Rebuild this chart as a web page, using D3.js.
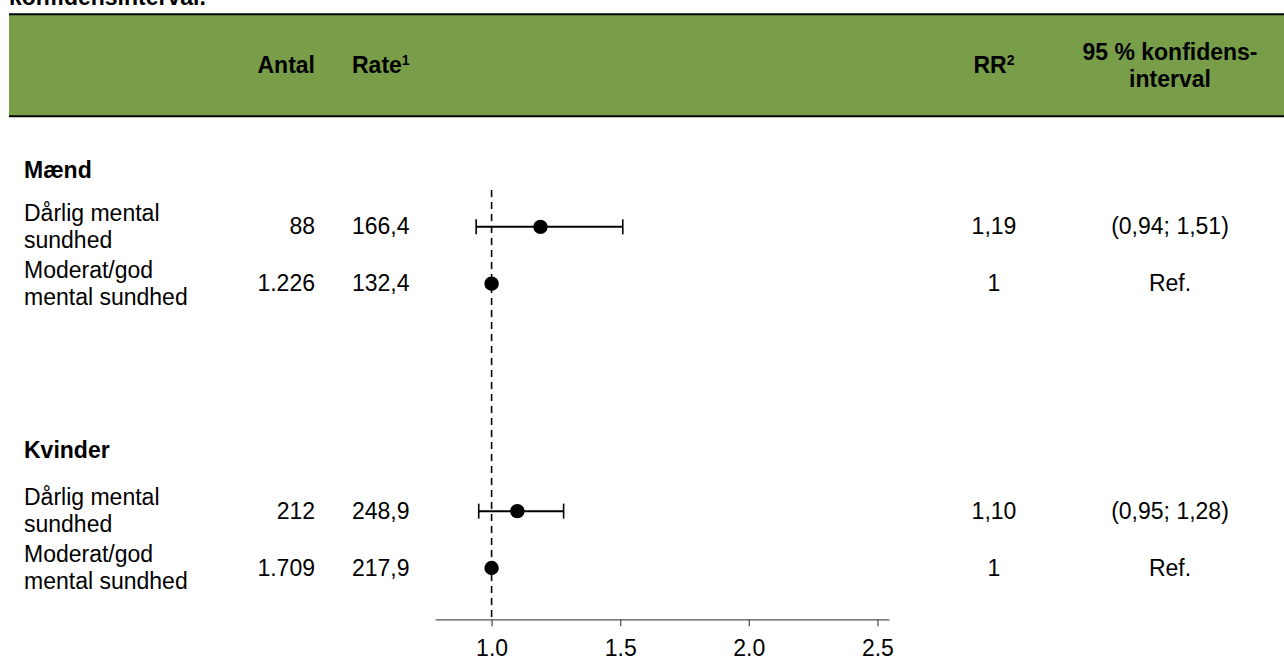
<!DOCTYPE html>
<html>
<head>
<meta charset="utf-8">
<script src="https://cdn.jsdelivr.net/npm/d3@7"></script>
<style>
  body { margin: 0; background: #fff; }
  text { font-family: Arial, "Liberation Sans", sans-serif; }
</style>
</head>
<body>
<div id="chart"></div>
<script>
// data
var groups = ["Mænd", "Kvinder"]
var rowLabels = [["Dårlig mental", "sundhed"], ["Moderat/god", "mental sundhed"]]
var antal = ["88", "1.226", "212", "1.709"]
var rate = ["166,4", "132,4", "248,9", "217,9"]
var rr = [1.19, 1, 1.10, 1]
var lower = [0.94, null, 0.95, null]
var upper = [1.51, null, 1.28, null]
var rrText = ["1,19", "1", "1,10", "1"]
var ciText = ["(0,94; 1,51)", "Ref.", "(0,95; 1,28)", "Ref."]
var tickVals = [1.0, 1.5, 2.0, 2.5]

var W = 1284, H = 671
var fs = 23

var svg = d3.select("#chart").append("svg")
    .attr("width", W).attr("height", H)

// clipped title from the page above
svg.append("text")
    .attr("x", 9).attr("y", 5)
    .style("font-size", fs + "px").style("font-weight", "bold")
    .text("konfidensinterval.")

// green header band
svg.append("rect")
    .attr("x", 9).attr("y", 15).attr("width", W - 9).attr("height", 101)
    .style("fill", "#799E4A")
svg.append("line").attr("x1", 9).attr("x2", W).attr("y1", 14.3).attr("y2", 14.3)
    .style("stroke", "#000").style("stroke-width", 2)
svg.append("line").attr("x1", 9).attr("x2", W).attr("y1", 116.3).attr("y2", 116.3)
    .style("stroke", "#000").style("stroke-width", 2)

// column positions
var colAntal = 315, colRate = 352, colRR = 994, colCI = 1170, colLabel = 24

function header(x, anchor, txt, sup) {
    var t = svg.append("text")
        .attr("x", x).attr("y", 73)
        .attr("text-anchor", anchor)
        .style("font-size", fs + "px").style("font-weight", "bold")
    t.append("tspan").text(txt)
    if (sup) t.append("tspan").attr("dy", -8).style("font-size", "14px").text(sup)
}
header(colAntal, "end", "Antal")
header(colRate, "start", "Rate", "1")
header(colRR, "middle", "RR", "2")
svg.append("text")
    .attr("x", colCI).attr("y", 60).attr("text-anchor", "middle")
    .style("font-size", fs + "px").style("font-weight", "bold")
    .text("95 % konfidens-")
svg.append("text")
    .attr("x", colCI).attr("y", 87).attr("text-anchor", "middle")
    .style("font-size", fs + "px").style("font-weight", "bold")
    .text("interval")

// rows
var rowKeys = ["g0", "r0", "r1", "s0", "s1", "g1", "r2", "r3"]
var y = d3.scalePoint().domain(rowKeys).range([170, 568])

// x scale
var x = d3.scaleLinear().domain([0.78, 2.545]).range([435, 889])
var axisY = 619.3

// reference line at 1
svg.append("line")
    .attr("x1", x(1)).attr("x2", x(1))
    .attr("y1", 190).attr("y2", axisY)
    .style("stroke", "#000").style("stroke-width", 1.6)
    .style("stroke-dasharray", "7,5")

// group headers
groups.forEach(function(g, i) {
    svg.append("text")
        .attr("x", colLabel).attr("y", y("g" + i) + 8 - (i == 1 ? 4 : 0))
        .style("font-size", fs + "px").style("font-weight", "bold")
        .text(g)
})

var rows = d3.range(4).map(function(i) {
    return {i: i, key: "r" + i, label: rowLabels[i % 2], antal: antal[i], rate: rate[i],
        rr: rr[i], lo: lower[i], hi: upper[i], rrText: rrText[i], ci: ciText[i]}
})

var row = svg.selectAll(".row").data(rows).enter().append("g").attr("class", "row")

row.each(function(d) {
    var g = d3.select(this)
    var cy = y(d.key)
    var base = cy + 7.5
    g.append("text").attr("x", colLabel).attr("y", base - 13.5)
        .style("font-size", fs + "px").text(d.label[0])
    g.append("text").attr("x", colLabel).attr("y", base + 13.5)
        .style("font-size", fs + "px").text(d.label[1])
    g.append("text").attr("x", colAntal).attr("y", base).attr("text-anchor", "end")
        .style("font-size", fs + "px").text(d.antal)
    g.append("text").attr("x", colRate).attr("y", base)
        .style("font-size", fs + "px").text(d.rate)
    g.append("text").attr("x", colRR).attr("y", base).attr("text-anchor", "middle")
        .style("font-size", fs + "px").text(d.rrText)
    g.append("text").attr("x", colCI).attr("y", base).attr("text-anchor", "middle")
        .style("font-size", fs + "px").text(d.ci)

    if (d.lo != null) {
        g.append("line").attr("x1", x(d.lo)).attr("x2", x(d.hi))
            .attr("y1", cy).attr("y2", cy)
            .style("stroke", "#000").style("stroke-width", 2)
        ;[d.lo, d.hi].forEach(function(v) {
            g.append("line").attr("x1", x(v)).attr("x2", x(v))
                .attr("y1", cy - 7.5).attr("y2", cy + 7.5)
                .style("stroke", "#000").style("stroke-width", 1.6)
        })
    }
    g.append("circle").attr("cx", x(d.rr)).attr("cy", cy).attr("r", 7.2)
        .style("fill", "#000")
})

// x axis
var axis = svg.append("g")
    .attr("transform", "translate(0," + axisY + ")")
    .call(d3.axisBottom(x).tickValues(tickVals).tickFormat(d3.format(".1f"))
        .tickSize(7).tickSizeOuter(0).tickPadding(13))
axis.select(".domain").style("stroke", "#555").style("stroke-width", 1.3)
axis.selectAll(".tick line").style("stroke", "#555").style("stroke-width", 1.3)
axis.selectAll(".tick text")
    .style("font-size", fs + "px").style("font-family", "Arial, 'Liberation Sans', sans-serif")
    .style("fill", "#000")
</script>
</body>
</html>
